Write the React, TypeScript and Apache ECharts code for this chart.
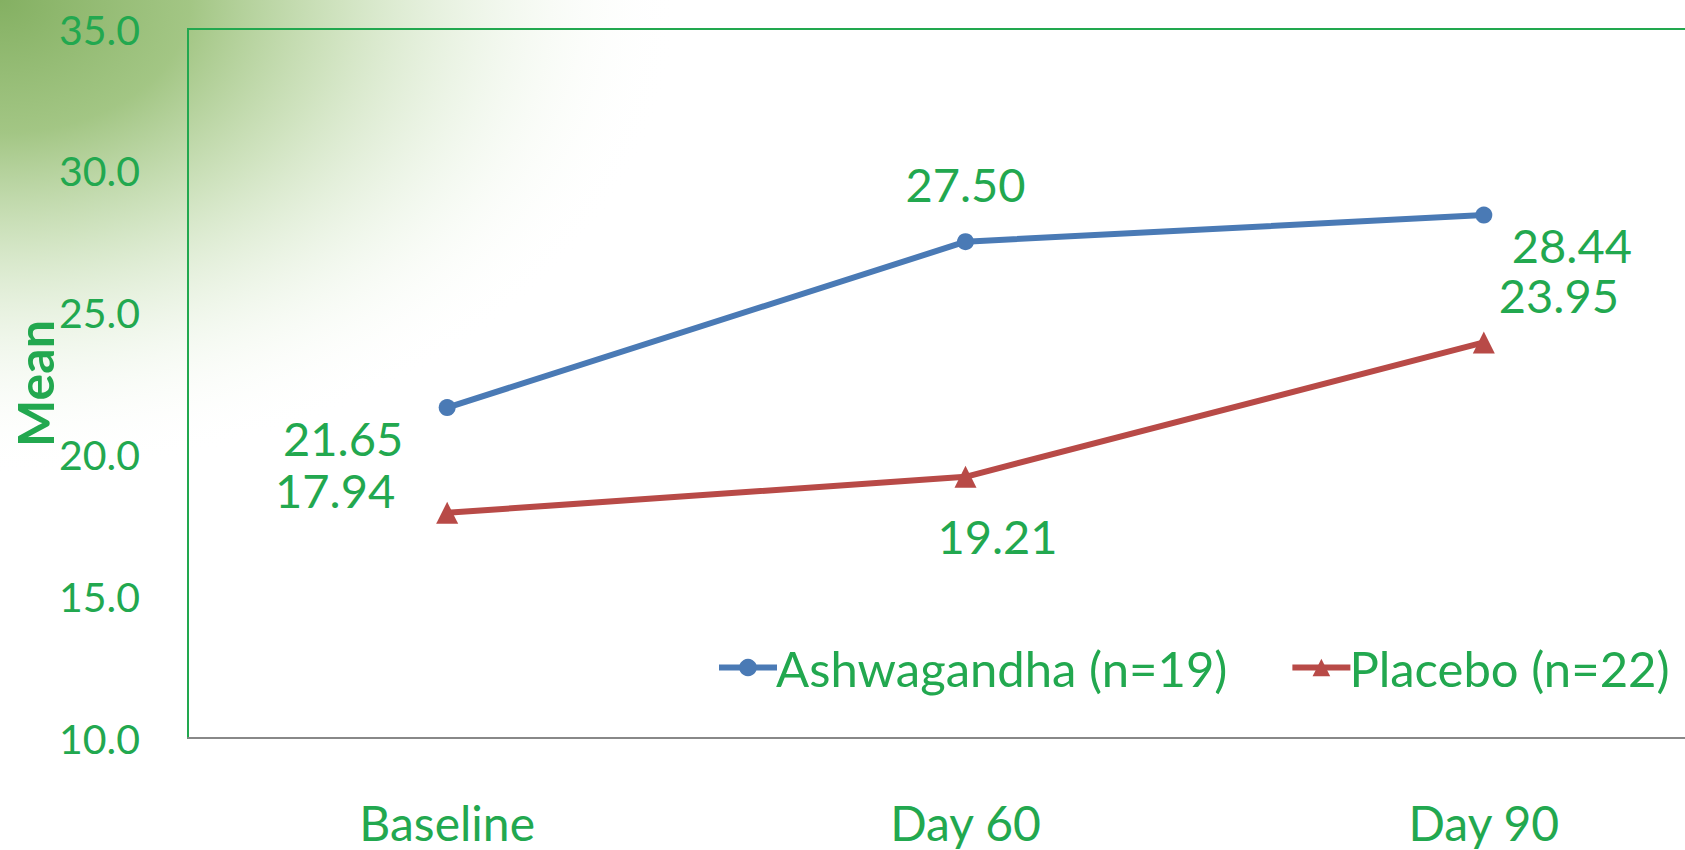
import React, { useEffect, useRef } from "react";
import * as echarts from "echarts";

const categories = ["Baseline", "Day 60", "Day 90"];
const ashwagandha = [21.65, 27.5, 28.44];
const placebo = [17.94, 19.21, 23.95];
const seriesNames = ["Ashwagandha (n=19)", "Placebo (n=22)"];
const ashOffsets = [[-104, 30], [0, -58], [88, 30]];
const plaOffsets = [[-112, -23], [32, 59], [75, -47]];

const GREEN = "#22A84F";
const FONT = "Lato";

export default function App() {
  const ref = useRef<HTMLDivElement>(null);
  useEffect(() => {
    document.body.style.margin = "0";
    const chart = echarts.init(ref.current!, null, { renderer: "svg" });
    const mkData = (vals: number[], offs: number[][]) =>
      vals.map((v, i) => ({
        value: v,
        label: { offset: offs[i] },
      }));
    chart.setOption({
      animation: false,
      backgroundColor: "#ffffff",
      graphic: [
        {
          type: "rect",
          x: 0,
          y: 0,
          scaleY: 0.7,
          z: -100,
          shape: { x: 0, y: 0, width: 680, height: 680 },
          style: {
            fill: {
              type: "radial",
              x: 0,
              y: 0,
              r: 1,
              colorStops: [
                { offset: 0, color: "rgba(132,176,98,1)" },
                { offset: 0.28, color: "rgba(158,195,126,0.95)" },
                { offset: 0.5, color: "rgba(196,220,176,0.8)" },
                { offset: 0.75, color: "rgba(228,240,220,0.45)" },
                { offset: 1, color: "rgba(255,255,255,0)" },
              ],
            },
          },
        },
      ],
      grid: {
        left: 188,
        top: 29,
        width: 1555,
        height: 709,
        outerBoundsMode: "none",
        containLabel: false,
        show: true,
        borderColor: GREEN,
        borderWidth: 2,
        backgroundColor: "transparent",
      },
      legend: {
        left: 711,
        top: 638,
        itemWidth: 58,
        itemHeight: 22,
        itemGap: 62,
        lineStyle: { width: 6 },
        textStyle: { color: GREEN, fontFamily: FONT, fontSize: 49, padding: [0, 0, 0, -6] },
        data: seriesNames,
      },
      xAxis: {
        type: "category",
        data: categories,
        axisLine: { lineStyle: { color: "#888888", width: 2 } },
        axisTick: { show: false },
        axisLabel: { color: GREEN, fontFamily: FONT, fontSize: 48, margin: 60 },
      },
      yAxis: {
        type: "value",
        min: 10,
        max: 35,
        interval: 5,
        name: "Mean",
        nameLocation: "middle",
        nameGap: 128,
        nameMoveOverlap: false,
        nameRotate: 90,
        nameTextStyle: { color: GREEN, fontFamily: FONT, fontSize: 50, fontWeight: "bold" },
        axisLine: { show: false },
        axisTick: { show: false },
        splitLine: { show: false },
        axisLabel: {
          color: GREEN,
          fontFamily: FONT,
          fontSize: 41,
          margin: 48,
          formatter: (v: number) => v.toFixed(1),
        },
      },
      series: [
        {
          name: seriesNames[0],
          type: "line",
          data: mkData(ashwagandha, ashOffsets),
          symbol: "circle",
          symbolSize: 17,
          itemStyle: { color: "#4A7AB5" },
          lineStyle: { color: "#4A7AB5", width: 6 },
          label: {
            show: true,
            position: "inside",
            color: GREEN,
            fontFamily: FONT,
            fontSize: 47,
            lineHeight: 40,
            formatter: (p: any) => p.value.toFixed(2),
          },
        },
        {
          name: seriesNames[1],
          type: "line",
          data: mkData(placebo, plaOffsets),
          symbol: "triangle",
          symbolSize: 22,
          itemStyle: { color: "#B84A47" },
          lineStyle: { color: "#B84A47", width: 6 },
          label: {
            show: true,
            position: "inside",
            color: GREEN,
            fontFamily: FONT,
            fontSize: 47,
            lineHeight: 40,
            formatter: (p: any) => p.value.toFixed(2),
          },
        },
      ],
    });
    return () => chart.dispose();
  }, []);
  return <div ref={ref} style={{ width: 1685, height: 850 }} />;
}
